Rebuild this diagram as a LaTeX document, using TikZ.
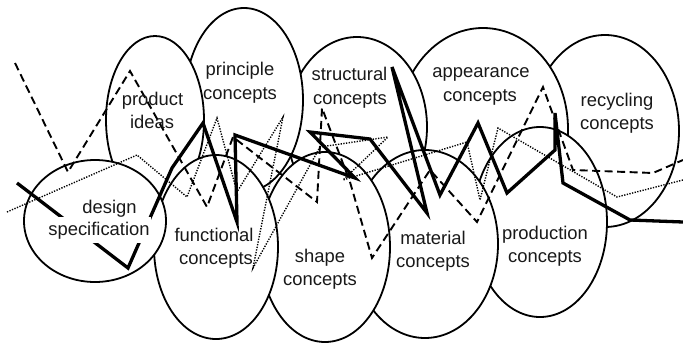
\documentclass[tikz,border=0pt]{standalone}
\usepackage{fontspec}
\setmainfont{Liberation Sans}
\usetikzlibrary{shapes.geometric}
\begin{document}
\begin{tikzpicture}[x=1pt,y=-1pt,
  ell/.style={ellipse, draw, fill=white, line width=1.8pt, inner sep=0pt},
  lbl/.style={anchor=base, inner sep=0pt, font=\fontsize{18.4}{22}\selectfont, text=black!90},
  masklbl/.style={lbl, fill=white, inner xsep=1.5pt, inner ysep=4.5pt},
  thickpath/.style={line width=3.3pt},
  dashpath/.style={line width=1.9pt, dash pattern=on 8pt off 4.5pt},
  dotpath/.style={line width=1.4pt, dash pattern=on 1.3pt off 1.4pt}]
\useasboundingbox (0,0) rectangle (683,343);
% upper row (back)
\node[ell, minimum width=148pt, minimum height=192pt] (recycling) at (605,131) {};
\node[ell, minimum width=170pt, minimum height=202pt] (appearance) at (483,129) {};
\node[ell, minimum width=140pt, minimum height=180pt] (structural) at (357,127) {};
\node[ell, minimum width=118pt, minimum height=184pt] (principle) at (244,100) {};
\node[ell, minimum width=98pt, minimum height=168pt] (product) at (155,120) {};
% lower row (front)
\node[ell, minimum width=134pt, minimum height=190pt] (production) at (540,222) {};
\node[ell, minimum width=146pt, minimum height=188pt] (material) at (425,244) {};
\node[ell, minimum width=130pt, minimum height=190pt] (shape) at (325,247) {};
\node[ell, minimum width=124pt, minimum height=184pt] (functional) at (216,247) {};
\node[ell, minimum width=142pt, minimum height=122pt] (design) at (95,221) {};
% trajectories
\draw[dotpath] (7,212) -- (137,155) -- (187,197) -- (217,118) -- (237,192) -- (283,117)
  -- (253,268) -- (320,147) -- (388,137) -- (343,180) -- (467,142) -- (480,200)
  -- (498,128) -- (617,197) -- (683,180);
\draw[dashpath] (15,63) -- (68,172) -- (130,71) -- (207,207) -- (233,137) -- (317,202)
  -- (322,108) -- (350,182) -- (372,258) -- (430,170) -- (477,222) -- (543,87)
  -- (573,170) -- (653,173) -- (683,160);
\draw[thickpath] (17,183) -- (128,268) -- (172,168) -- (203,123) -- (237,222) -- (235,135)
  -- (355,178) -- (310,132) -- (370,139) -- (427,213) -- (392,67) -- (440,195)
  -- (478,123) -- (507,193) -- (555,150) -- (555,113) -- (563,183) -- (630,220) -- (683,222);
% labels
\node[masklbl] (t-design1) at (109.5,213) {design};
\node[masklbl] (t-design2) at (99,235) {specification};
\node[lbl] (t-product1) at (152.5,105) {product};
\node[lbl] (t-product2) at (152,128) {ideas};
\node[lbl] (t-principle1) at (240,75) {principle};
\node[lbl] (t-principle2) at (240,99) {concepts};
\node[lbl] (t-structural1) at (349.5,80) {structural};
\node[lbl] (t-structural2) at (350,104) {concepts};
\node[lbl] (t-appearance1) at (481,77) {appearance};
\node[lbl] (t-appearance2) at (480,101) {concepts};
\node[lbl] (t-recycling1) at (617,106) {recycling};
\node[lbl] (t-recycling2) at (617,129) {concepts};
\node[lbl] (t-functional1) at (214,241) {functional};
\node[lbl] (t-functional2) at (216,264) {concepts};
\node[lbl] (t-shape1) at (320,262) {shape};
\node[lbl] (t-shape2) at (320,285) {concepts};
\node[lbl] (t-material1) at (433,244) {material};
\node[lbl] (t-material2) at (433,267) {concepts};
\node[lbl] (t-production1) at (545,239) {production};
\node[lbl] (t-production2) at (545,262) {concepts};
\end{tikzpicture}
\end{document}
